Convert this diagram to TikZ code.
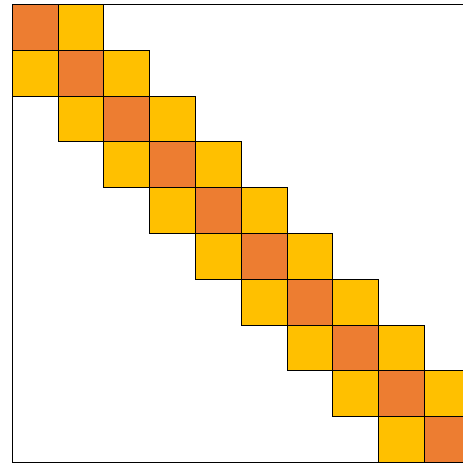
\documentclass[tikz,border=0pt]{standalone}
\usetikzlibrary{positioning}
\definecolor{diagorange}{HTML}{ED7D31}
\definecolor{bandyellow}{HTML}{FFC000}

\begin{document}
\begin{tikzpicture}[
x=1cm, y=1cm,
cell/.style={draw, line width=0.6pt, minimum size=1cm, inner sep=0pt, outer sep=0pt},
diag/.style={cell, fill=diagorange},
band/.style={cell, fill=bandyellow}
]
\useasboundingbox (-0.269,-10.033) rectangle (9.84,0.098);
\clip (-0.269,-10.033) rectangle (9.84,0.098);
\draw[line width=0.6pt] (0,0) rectangle (10,-10);
\foreach \i in {0,...,9}
  \node[diag] (d\i) at (\i+0.5,-\i-0.5) {};
\foreach \i in {0,...,8} {
  \node[band, right=0pt of d\i] (u\i) {};
  \node[band, below=0pt of d\i] (l\i) {};
}
\end{tikzpicture}
\end{document}
